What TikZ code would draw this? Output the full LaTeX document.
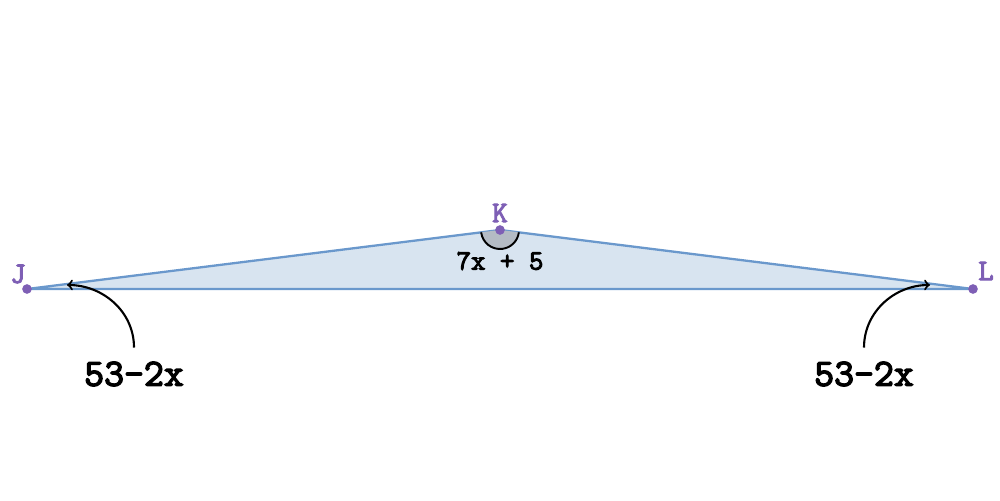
\documentclass[tikz,border=0pt]{standalone}
\usepackage{fontspec}
\newfontfamily\slabfont{Latin Modern Mono}[AutoFakeBold=3.5]
\usetikzlibrary{positioning}
\definecolor{sideblue}{HTML}{6A98CC}
\definecolor{fillblue}{HTML}{D8E4F0}
\definecolor{ptpurple}{HTML}{7E5FB5}
\definecolor{anglegray}{HTML}{B4BBC4}
\tikzset{
  vertex/.style={circle,fill=ptpurple,inner sep=0pt,minimum size=5.5pt},
  vlabel/.style={text=ptpurple,font=\slabfont\bfseries\fontsize{17}{17}\selectfont},
  measure/.style={font=\slabfont\bfseries\fontsize{22}{22}\selectfont},
  anglelabel/.style={font=\slabfont\bfseries\fontsize{16}{16}\selectfont},
  pointer/.style={->,line width=1.2pt}
}
\begin{document}
\begin{tikzpicture}[x=0.02cm,y=0.02cm]
  \useasboundingbox (0,0) rectangle (1000,500);
  \coordinate (J) at (27,211);
  \coordinate (K) at (500,270);
  \coordinate (L) at (973,211);

  % triangle
  \filldraw[fill=fillblue,draw=sideblue,line width=1.3pt,line join=round] (J) -- (K) -- (L) -- cycle;

  % angle at K
  \filldraw[fill=anglegray,draw=none] (K) -- ++(187.1:19) arc[start angle=187.1,end angle=352.9,radius=19] -- cycle;
  \draw[line width=1.1pt] (K) ++(187.1:19) arc[start angle=187.1,end angle=352.9,radius=19];

  \node[vertex] (pJ) at (J) {};
  \node[vertex] (pK) at (K) {};
  \node[vertex] (pL) at (L) {};
  \node[vlabel] (lJ) at (18,226) {J};
  \node[vlabel] (lK) at (500,287) {K};
  \node[vlabel] (lL) at (986,229) {L};
  \node[anglelabel] (aK) at (500,239) {7x + 5};

  % base angle labels
  \node[measure] (mJ) at (134,126) {53-2x};
  \node[measure] (mL) at (864,126) {53-2x};
  \coordinate (tJ) at (67,215);
  \coordinate (tL) at (930,215);
  \draw[pointer] (mJ.north) ++(0,8) coordinate (sJ) to[out=90,in=0] (tJ);
  \draw[pointer] (mL.north) ++(0,8) coordinate (sL) to[out=90,in=180] (tL);
\end{tikzpicture}
\end{document}
